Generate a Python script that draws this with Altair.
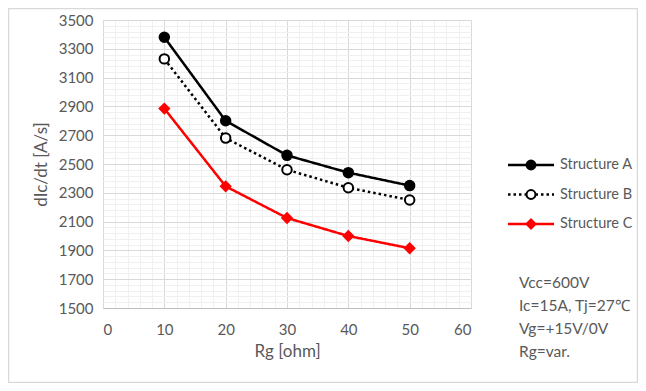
import altair as alt
import pandas as pd

# ---- data ----
rg = [10, 20, 30, 40, 50]
structure_a = [3380, 2800, 2560, 2440, 2350]
structure_b = [3230, 2680, 2460, 2335, 2250]
structure_c = [2885, 2345, 2125, 2000, 1915]
series = ["Structure A", "Structure B", "Structure C"]
line_colors = ["#000000", "#000000", "#ff0000"]
point_fills = ["#000000", "#ffffff", "#ff0000"]
point_shapes = ["circle", "circle", "diamond"]
dashes = [[1, 0], [2.5, 3], [1, 0]]
x_ticks = [0, 10, 20, 30, 40, 50, 60]
y_ticks = [1500, 1700, 1900, 2100, 2300, 2500, 2700, 2900, 3100, 3300, 3500]
x_minor = [v for v in range(0, 61, 2) if v % 10 != 0]
y_minor = [v for v in range(1500, 3501, 40) if (v - 1500) % 200 != 0]
conditions = ["Vcc=600V", "Ic=15A, Tj=27\u2103", "Vg=+15V/0V", "Rg=var."]

rows = []
for name, vals in zip(series, [structure_a, structure_b, structure_c]):
    for x, v in zip(rg, vals):
        rows.append({"rg": x, "val": v, "series": name})
df = pd.DataFrame(rows)
leg_df = pd.DataFrame({"series": series})
cond_df = pd.DataFrame({"cond": conditions})

GRAY = "#595959"
FONT = "Lato"
W, H = 368, 288

xscale = alt.Scale(domain=[0, 60], nice=False, zero=False)
yscale = alt.Scale(domain=[1500, 3500], nice=False, zero=False)
color_scale = alt.Scale(domain=series, range=line_colors)
fill_scale = alt.Scale(domain=series, range=point_fills)
shape_scale = alt.Scale(domain=series, range=point_shapes)
dash_scale = alt.Scale(domain=series, range=dashes)

# minor grid layer
minor = alt.Chart(df).mark_point(opacity=0).encode(
    x=alt.X("rg:Q", scale=xscale,
            axis=alt.Axis(values=x_minor, grid=True, gridColor="#f0f0f0", labels=False,
                          ticks=False, domain=False, title=None, orient="bottom")),
    y=alt.Y("val:Q", scale=yscale,
            axis=alt.Axis(values=y_minor, grid=True, gridColor="#f0f0f0", labels=False,
                          ticks=False, domain=False, title=None, orient="left")),
)

base = alt.Chart(df).encode(
    x=alt.X("rg:Q", scale=xscale,
            axis=alt.Axis(values=x_ticks, format="d", grid=True, gridColor="#d9d9d9", ticks=False,
                          tickSize=0, domain=True, domainColor="#bfbfbf", labelColor=GRAY,
                          labelFontSize=15, labelFont=FONT, labelPadding=14, title="Rg [ohm]",
                          titleColor=GRAY, titleFont=FONT, titleFontSize=17,
                          titleFontWeight="normal", titlePadding=6, orient="bottom")),
    y=alt.Y("val:Q", scale=yscale,
            axis=alt.Axis(values=y_ticks, format="d", grid=True, gridColor="#d9d9d9", ticks=False,
                          tickSize=0, domain=False, labelColor=GRAY, labelFontSize=15,
                          labelFont=FONT, labelPadding=10, title="dIc/dt [A/s]", titleColor=GRAY,
                          titleFont=FONT, titleFontSize=17, titleFontWeight="normal",
                          titlePadding=8, orient="left")),
)

lines = base.mark_line(strokeWidth=2.5).encode(
    color=alt.Color("series:N", scale=color_scale, legend=None),
    strokeDash=alt.StrokeDash("series:N", scale=dash_scale, legend=None),
)
points = base.mark_point(size=90, strokeWidth=2, opacity=1, fillOpacity=1).encode(
    stroke=alt.Stroke("series:N", scale=color_scale, legend=None),
    fill=alt.Fill("series:N", scale=fill_scale, legend=None),
    shape=alt.Shape("series:N", scale=shape_scale, legend=None),
)
data_layer = alt.layer(lines, points)

# custom legend
leg_y = alt.Y("series:N", scale=alt.Scale(type="point", domain=series, range=[145, 204], padding=0),
              axis=None)
leg_lines = alt.Chart(leg_df).mark_rule(strokeWidth=2.5).encode(
    x=alt.value(405), x2=alt.value(451), y=leg_y,
    color=alt.Color("series:N", scale=color_scale, legend=None),
    strokeDash=alt.StrokeDash("series:N", scale=dash_scale, legend=None),
)
leg_points = alt.Chart(leg_df).mark_point(size=80, strokeWidth=2, opacity=1, fillOpacity=1).encode(
    x=alt.value(428), y=leg_y,
    stroke=alt.Stroke("series:N", scale=color_scale, legend=None),
    fill=alt.Fill("series:N", scale=fill_scale, legend=None),
    shape=alt.Shape("series:N", scale=shape_scale, legend=None),
)
leg_text = alt.Chart(leg_df).mark_text(align="left", baseline="middle", fontSize=14.5, font=FONT,
                                       color=GRAY).encode(
    x=alt.value(457), y=leg_y, text="series:N")
legend = alt.layer(leg_lines, leg_points, leg_text)

notes = alt.Chart(cond_df).mark_text(align="left", baseline="middle", fontSize=15.5, font=FONT,
                                     color=GRAY).encode(
    x=alt.value(416),
    y=alt.Y("cond:N", scale=alt.Scale(type="point", domain=conditions, range=[263, 332], padding=0),
            axis=None),
    text="cond:N")

frame = alt.Chart(pd.DataFrame({"a": [0]})).mark_rect(fillOpacity=0, stroke="#d9d9d9",
                                                      strokeWidth=1.5).encode(
    x=alt.value(-94.5), x2=alt.value(534.5), y=alt.value(-11.5), y2=alt.value(362.5))

chart = alt.layer(frame, minor, data_layer, legend, notes).resolve_scale(
    x="independent", y="independent"
).properties(
    width=W, height=H,
    autosize=alt.AutoSizeParams(type="none"),
    padding={"left": 95, "top": 12, "right": 167, "bottom": 75},
).configure_view(stroke=None)

chart.save("out.html", embed_options={"renderer": "svg", "actions": False})
